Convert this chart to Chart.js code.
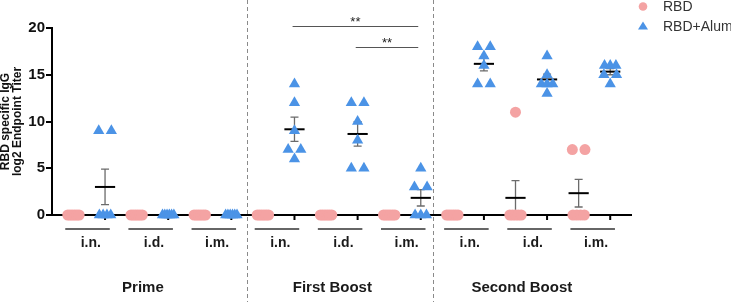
<!DOCTYPE html>
<html lang="en">
<head>
<meta charset="UTF-8">
<title>RBD specific IgG endpoint titers</title>
<script src="https://cdn.jsdelivr.net/npm/chart.js@4"></script>
<style>
  html, body { margin: 0; padding: 0; background: #fff; }
  #wrap { width: 731px; height: 302px; position: relative; }
</style>
</head>
<body>
<div id="wrap"><canvas id="igg"></canvas></div>
<script>
const phases = ['Prime', 'First Boost', 'Second Boost'];
const routes = ['i.n.', 'i.d.', 'i.m.'];
const seriesNames = ['RBD', 'RBD+Alum'];
const yTicks = [0, 5, 10, 15, 20];

// log2 endpoint titer per mouse; groups: Prime in/id/im, First Boost in/id/im, Second Boost in/id/im
const rbdTiters = [
  [0, 0, 0, 0, 0, 0],
  [0, 0, 0, 0, 0, 0],
  [0, 0, 0, 0, 0, 0],
  [0, 0, 0, 0, 0, 0],
  [0, 0, 0, 0, 0, 0],
  [0, 0, 0, 0, 0, 0],
  [0, 0, 0, 0, 0, 0],
  [11, 0, 0, 0, 0, 0],
  [7, 7, 0, 0, 0, 0]
];
const alumTiters = [
  [9, 9, 0, 0, 0, 0],
  [0, 0, 0, 0, 0, 0],
  [0, 0, 0, 0, 0, 0],
  [14, 12, 9, 7, 7, 6],
  [12, 12, 10, 8, 5, 5],
  [5, 3, 3, 0, 0, 0],
  [18, 18, 17, 16, 14, 14],
  [17, 15, 14, 14, 14, 13],
  [16, 16, 16, 15, 15, 14]
];
// significance brackets within First Boost (RBD+Alum)
const sigFrom = ['i.n.', 'i.d.'];
const sigTo = ['i.m.', 'i.m.'];
const sigLabels = ['**', '**'];

const pink = '#F4A3A3';
const blue = '#4B93E6';
const FONT = '"Liberation Sans", Arial, sans-serif';

function colX(group, series) { return group * 2 + series; }

function stats(vals) {
  const n = vals.length;
  const mean = vals.reduce((a, b) => a + b, 0) / n;
  const sd = Math.sqrt(vals.reduce((a, v) => a + (v - mean) ** 2, 0) / (n - 1));
  return { mean, sem: sd / Math.sqrt(n) };
}

// spread equal values side by side like a column scatter
function spread(vals, center) {
  const counts = {}, seen = {};
  vals.forEach(v => counts[v] = (counts[v] || 0) + 1);
  return vals.map(v => {
    const n = counts[v];
    const k = seen[v] || 0;
    seen[v] = k + 1;
    if (n === 1) return { x: center, y: v };
    const span = n === 2 ? 0.4 : 0.36;
    return { x: center - span / 2 + span * k / (n - 1), y: v };
  });
}

const rbdPoints = rbdTiters.flatMap((g, i) => spread(g, colX(i, 0)));
const alumPoints = alumTiters.flatMap((g, i) => spread(g, colX(i, 1)));

const decor = {
  id: 'decor',
  beforeDatasetsDraw(chart) {
    const { ctx, chartArea: a, scales: { x, y } } = chart;
    const y0 = y.getPixelForValue(0);
    ctx.save();
    ctx.strokeStyle = '#000';
    ctx.lineWidth = 2;
    ctx.beginPath();
    ctx.moveTo(a.left, y0);
    ctx.lineTo(a.right, y0);
    for (let i = 0; i < rbdTiters.length * 2; i++) {
      const px = x.getPixelForValue(i);
      ctx.moveTo(px, y0);
      ctx.lineTo(px, y0 + 5);
    }
    ctx.stroke();

    // mean +/- SEM
    [rbdTiters, alumTiters].forEach((groups, s) => groups.forEach((vals, g) => {
      const { mean, sem } = stats(vals);
      const cx = colX(g, s);
      const px = x.getPixelForValue(cx);
      if (sem > 0) {
        const top = y.getPixelForValue(mean + sem);
        const bot = y.getPixelForValue(mean - sem);
        ctx.strokeStyle = '#6b6b6b';
        ctx.lineWidth = 1.3;
        ctx.beginPath();
        ctx.moveTo(px, top); ctx.lineTo(px, bot);
        ctx.moveTo(px - 4, top); ctx.lineTo(px + 4, top);
        ctx.moveTo(px - 4, bot); ctx.lineTo(px + 4, bot);
        ctx.stroke();
      }
      const my = y.getPixelForValue(mean);
      ctx.strokeStyle = '#000';
      ctx.lineWidth = 2;
      ctx.beginPath();
      ctx.moveTo(x.getPixelForValue(cx - 0.32), my);
      ctx.lineTo(x.getPixelForValue(cx + 0.32), my);
      ctx.stroke();
    }));
    ctx.restore();
  },
  afterDraw(chart) {
    const { ctx, chartArea: a, scales: { x, y } } = chart;
    const y0 = y.getPixelForValue(0);
    ctx.save();

    // phase separators
    ctx.strokeStyle = '#8a8a8a';
    ctx.lineWidth = 1;
    ctx.setLineDash([4, 3]);
    [5.5, 11.4].forEach(v => {
      const px = Math.round(x.getPixelForValue(v)) + 0.5;
      ctx.beginPath();
      ctx.moveTo(px, 0);
      ctx.lineTo(px, chart.height);
      ctx.stroke();
    });
    ctx.setLineDash([]);

    // route underlines and labels
    ctx.fillStyle = '#1a1a1a';
    ctx.textAlign = 'center';
    ctx.textBaseline = 'middle';
    ctx.font = 'bold 14px ' + FONT;
    for (let g = 0; g < rbdTiters.length; g++) {
      const c = colX(g, 0);
      ctx.strokeStyle = '#333';
      ctx.lineWidth = 1.3;
      ctx.beginPath();
      ctx.moveTo(x.getPixelForValue(c - 0.26), y0 + 14);
      ctx.lineTo(x.getPixelForValue(c + 1.15), y0 + 14);
      ctx.stroke();
      ctx.fillText(routes[g % 3], x.getPixelForValue(c + 0.55), y0 + 28);
    }

    // phase labels
    ctx.font = 'bold 15px ' + FONT;
    phases.forEach((p, i) => {
      ctx.fillText(p, x.getPixelForValue(i * 6 + 2.2), y0 + 73);
    });

    // significance brackets
    const levels = [20.2, 18.0];
    ctx.font = '13px ' + FONT;
    sigLabels.forEach((lab, i) => {
      const x1 = x.getPixelForValue(colX(3 + routes.indexOf(sigFrom[i]), 1) - 0.06);
      const x2 = x.getPixelForValue(colX(3 + routes.indexOf(sigTo[i]), 1) - 0.08);
      const py = Math.round(y.getPixelForValue(levels[i])) + 0.5;
      ctx.strokeStyle = '#555';
      ctx.lineWidth = 1;
      ctx.beginPath();
      ctx.moveTo(x1, py);
      ctx.lineTo(x2, py);
      ctx.stroke();
      ctx.fillStyle = '#222';
      ctx.fillText(lab, (x1 + x2) / 2, py - 4);
    });

    // legend
    const lx = a.right + 11;
    ctx.fillStyle = pink;
    ctx.beginPath();
    ctx.arc(lx, 6.5, 4.3, 0, Math.PI * 2);
    ctx.fill();
    ctx.fillStyle = blue;
    ctx.beginPath();
    ctx.moveTo(lx, 21.5);
    ctx.lineTo(lx + 5, 29.5);
    ctx.lineTo(lx - 5, 29.5);
    ctx.closePath();
    ctx.fill();
    ctx.fillStyle = '#333';
    ctx.textAlign = 'left';
    ctx.font = '14px ' + FONT;
    ctx.fillText(seriesNames[0], lx + 20, 7);
    ctx.fillText(seriesNames[1], lx + 20, 27.5);
    ctx.restore();
  }
};

new Chart(document.getElementById('igg'), {
  type: 'scatter',
  data: {
    datasets: [
      {
        label: seriesNames[0],
        data: rbdPoints,
        pointStyle: 'circle',
        pointRadius: 5.5,
        backgroundColor: pink,
        borderWidth: 0,
        clip: false
      },
      {
        label: seriesNames[1],
        data: alumPoints,
        pointStyle: 'triangle',
        pointRadius: 6.5,
        backgroundColor: blue,
        borderWidth: 0,
        clip: false
      }
    ]
  },
  options: {
    responsive: true,
    maintainAspectRatio: false,
    animation: false,
    events: [],
    layout: { padding: { top: 28, right: 99, bottom: 87, left: 0 } },
    plugins: { legend: { display: false }, tooltip: { enabled: false } },
    scales: {
      x: { type: 'linear', min: -0.68, max: 17.69, display: false },
      y: {
        min: 0,
        max: 20,
        afterBuildTicks: s => { s.ticks = yTicks.map(v => ({ value: v })); },
        afterFit: s => { s.width = 52; },
        ticks: { color: '#111', padding: 1, font: { family: FONT, size: 15, weight: 'bold' } },
        grid: { drawOnChartArea: false, drawTicks: true, tickLength: 6, color: '#000', lineWidth: 2 },
        border: { display: true, color: '#000', width: 2 },
        title: {
          display: true,
          text: ['RBD specific IgG', 'log2 Endpoint Titer'],
          color: '#111',
          padding: 0,
          font: { family: FONT, size: 12, weight: 'bold', lineHeight: 1 }
        }
      }
    }
  },
  plugins: [decor]
});
</script>
</body>
</html>
